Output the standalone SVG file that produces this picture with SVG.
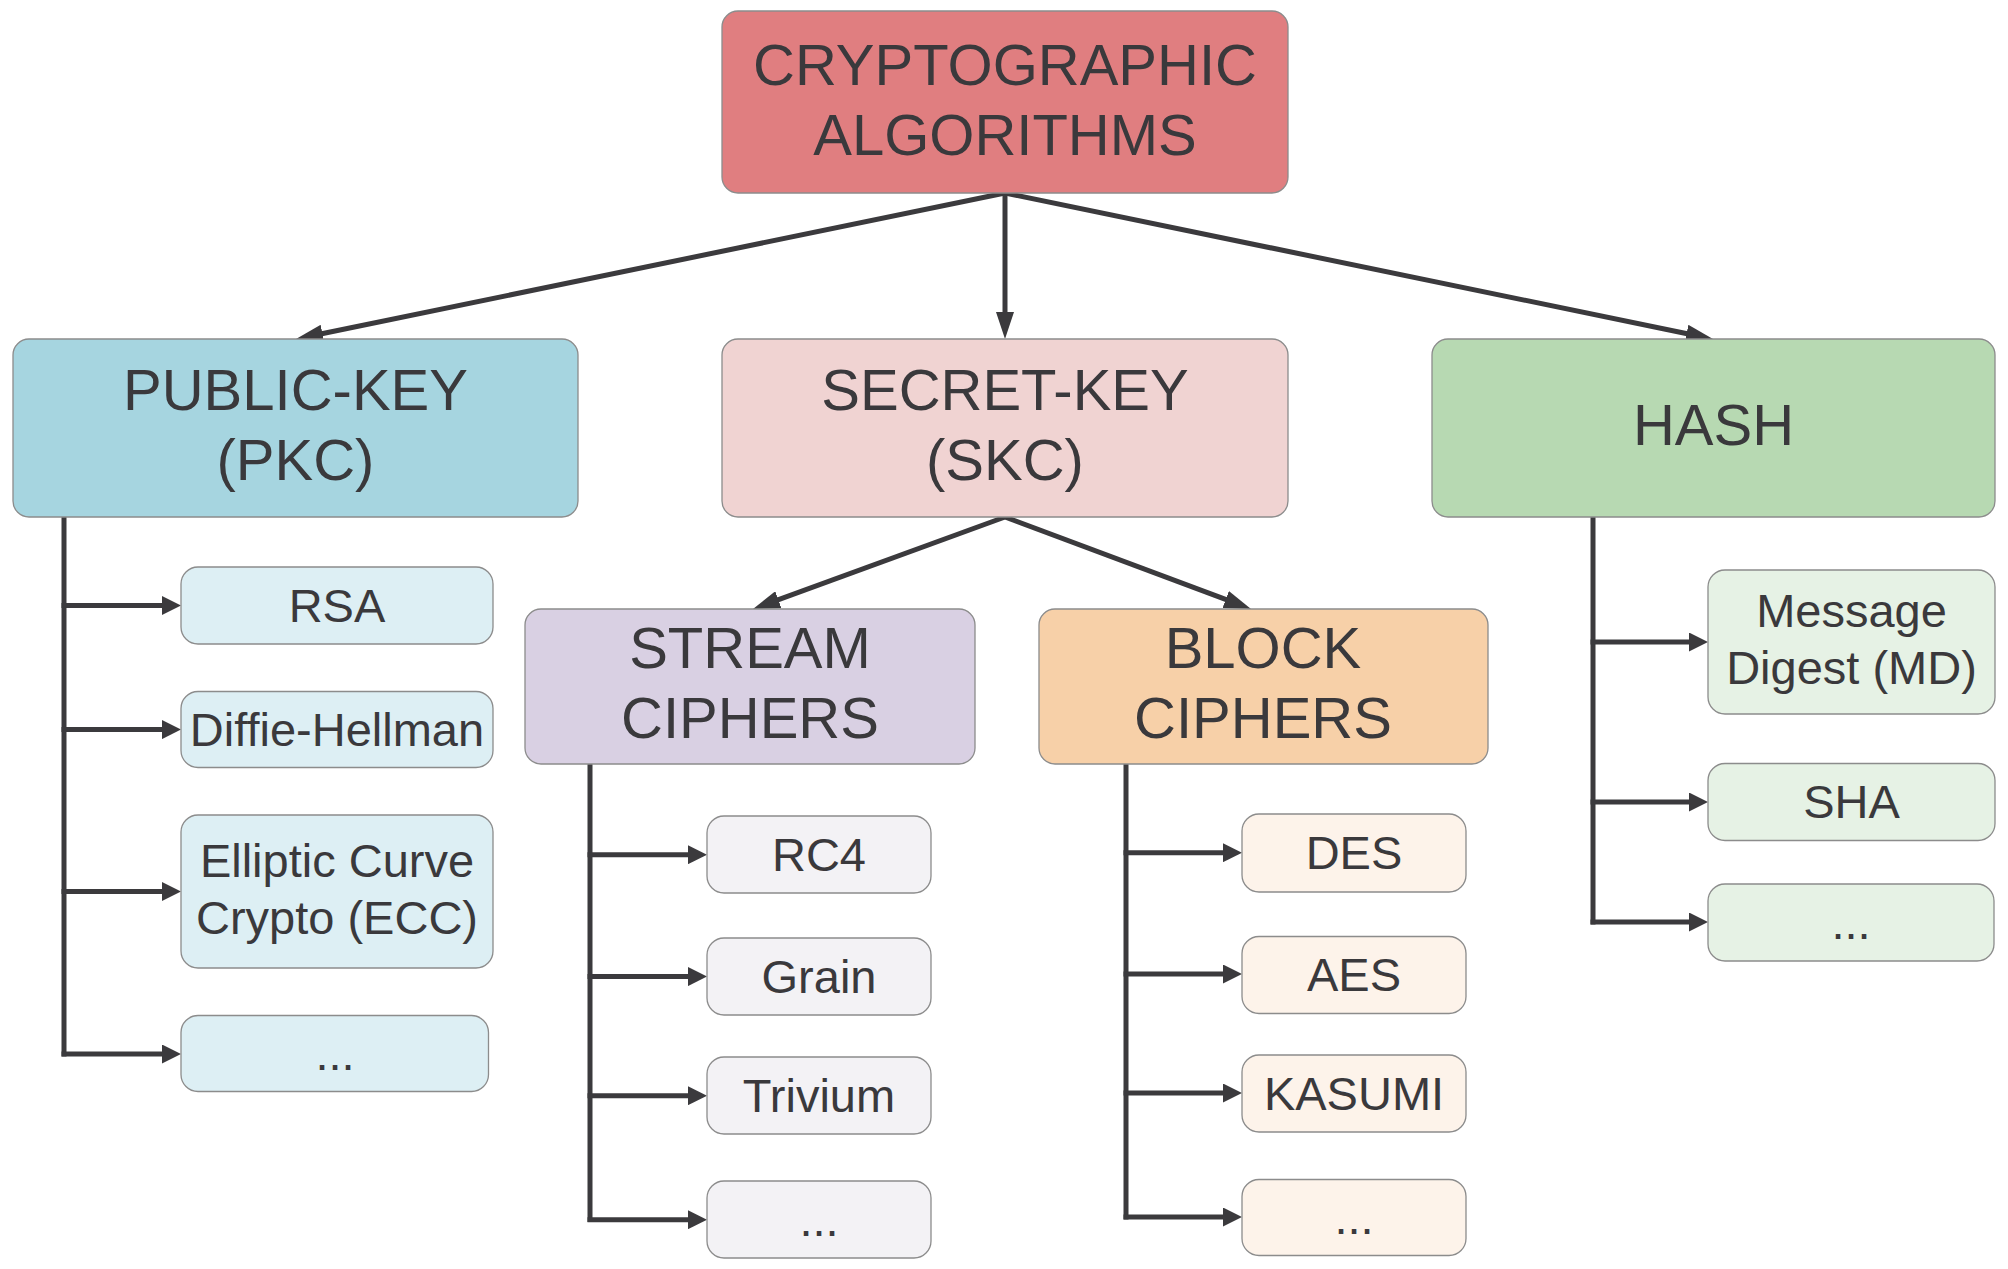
<svg xmlns="http://www.w3.org/2000/svg" width="2008" height="1269" viewBox="0 0 2008 1269">
<style>
text{font-family:"Liberation Sans",Arial,sans-serif;fill:#3a393c;text-anchor:middle}
.big{font-size:58px}
.leaf{font-size:47px}
.box{stroke:#8c8c8c;stroke-width:1.3}
.con{stroke:#3b3a3d;stroke-width:5;fill:none}
</style>
<defs>
<marker id="ah" markerUnits="userSpaceOnUse" viewBox="0 0 27 18" refX="2" refY="9" markerWidth="27" markerHeight="18" orient="auto"><path d="M0,0 L27,9 L0,18 z" fill="#3b3a3d"/></marker>
<marker id="as" markerUnits="userSpaceOnUse" viewBox="0 0 19 19" refX="1" refY="9.5" markerWidth="19" markerHeight="19" orient="auto"><path d="M0,0 L19,9.5 L0,19 z" fill="#3b3a3d"/></marker>
</defs>
<rect width="2008" height="1269" fill="#ffffff"/>
<g id="connectors">
<path class="con" d="M1005,193 L320.5,334" marker-end="url(#ah)"/>
<path class="con" d="M1005,193 L1005,314" marker-end="url(#ah)"/>
<path class="con" d="M1005,193 L1688.5,334" marker-end="url(#ah)"/>
<path class="con" d="M1005,517 L776.5,600.4" marker-end="url(#ah)"/>
<path class="con" d="M1005,517 L1227.6,600.2" marker-end="url(#ah)"/>
<path class="con" d="M64,517 V1056.5"/>
<path class="con" d="M61.5,605.5 H163" marker-end="url(#as)"/>
<path class="con" d="M61.5,729.6 H163" marker-end="url(#as)"/>
<path class="con" d="M61.5,891.5 H163" marker-end="url(#as)"/>
<path class="con" d="M61.5,1054 H163" marker-end="url(#as)"/>
<path class="con" d="M590,764 V1222"/>
<path class="con" d="M587.5,854.7 H689" marker-end="url(#as)"/>
<path class="con" d="M587.5,976.6 H689" marker-end="url(#as)"/>
<path class="con" d="M587.5,1095.7 H689" marker-end="url(#as)"/>
<path class="con" d="M587.5,1219.7 H689" marker-end="url(#as)"/>
<path class="con" d="M1126,764 V1219.5"/>
<path class="con" d="M1123.5,852.7 H1224" marker-end="url(#as)"/>
<path class="con" d="M1123.5,974 H1224" marker-end="url(#as)"/>
<path class="con" d="M1123.5,1093 H1224" marker-end="url(#as)"/>
<path class="con" d="M1123.5,1217 H1224" marker-end="url(#as)"/>
<path class="con" d="M1593,517 V924.5"/>
<path class="con" d="M1590.5,642 H1690" marker-end="url(#as)"/>
<path class="con" d="M1590.5,802 H1690" marker-end="url(#as)"/>
<path class="con" d="M1590.5,922 H1690" marker-end="url(#as)"/>
</g>
<g id="root"><rect class="box" x="722" y="11" width="566" height="182" rx="16" fill="#e07e80"/><text class="big" x="1005" y="85">CRYPTOGRAPHIC</text><text class="big" x="1005" y="155">ALGORITHMS</text></g>
<g id="pkc"><rect class="box" x="13" y="339" width="565" height="178" rx="16" fill="#a6d5e0"/><text class="big" x="295.5" y="410">PUBLIC-KEY</text><text class="big" x="295.5" y="480">(PKC)</text></g>
<g id="skc"><rect class="box" x="722" y="339" width="566" height="178" rx="16" fill="#f0d3d2"/><text class="big" x="1005" y="410">SECRET-KEY</text><text class="big" x="1005" y="480">(SKC)</text></g>
<g id="hash"><rect class="box" x="1432" y="339" width="563" height="178" rx="16" fill="#b7d9b2"/><text class="big" x="1713.5" y="445">HASH</text></g>
<g id="stream"><rect class="box" x="525" y="609" width="450" height="155" rx="16" fill="#d9d0e3"/><text class="big" x="750" y="668">STREAM</text><text class="big" x="750" y="738">CIPHERS</text></g>
<g id="block"><rect class="box" x="1039" y="609" width="449" height="155" rx="16" fill="#f7d0a8"/><text class="big" x="1263" y="668">BLOCK</text><text class="big" x="1263" y="738">CIPHERS</text></g>
<g id="rsa"><rect class="box" x="181" y="567" width="312" height="77" rx="17" fill="#ddeff4"/><text class="leaf" x="337" y="622">RSA</text></g>
<g id="dh"><rect class="box" x="181" y="691.5" width="312" height="76" rx="17" fill="#ddeff4"/><text class="leaf" x="337" y="746">Diffie-Hellman</text></g>
<g id="ecc"><rect class="box" x="181" y="815" width="312" height="153" rx="17" fill="#ddeff4"/><text class="leaf" x="337" y="877">Elliptic Curve</text><text class="leaf" x="337" y="934">Crypto (ECC)</text></g>
<g id="pkc-more"><rect class="box" x="181" y="1015.5" width="307.5" height="76" rx="17" fill="#ddeff4"/><text class="leaf" x="335" y="1070">...</text></g>
<g id="rc4"><rect class="box" x="707" y="816" width="224" height="77" rx="17" fill="#f3f2f5"/><text class="leaf" x="819" y="871">RC4</text></g>
<g id="grain"><rect class="box" x="707" y="938" width="224" height="77" rx="17" fill="#f3f2f5"/><text class="leaf" x="819" y="993">Grain</text></g>
<g id="trivium"><rect class="box" x="707" y="1057" width="224" height="77" rx="17" fill="#f3f2f5"/><text class="leaf" x="819" y="1112">Trivium</text></g>
<g id="stream-more"><rect class="box" x="707" y="1181" width="224" height="77" rx="17" fill="#f3f2f5"/><text class="leaf" x="819" y="1236">...</text></g>
<g id="des"><rect class="box" x="1242" y="814" width="224" height="78" rx="17" fill="#fdf3ea"/><text class="leaf" x="1354" y="869">DES</text></g>
<g id="aes"><rect class="box" x="1242" y="936.5" width="224" height="77" rx="17" fill="#fdf3ea"/><text class="leaf" x="1354" y="991">AES</text></g>
<g id="kasumi"><rect class="box" x="1242" y="1055" width="224" height="77" rx="17" fill="#fdf3ea"/><text class="leaf" x="1354" y="1110">KASUMI</text></g>
<g id="block-more"><rect class="box" x="1242" y="1179.5" width="224" height="76" rx="17" fill="#fdf3ea"/><text class="leaf" x="1354" y="1234">...</text></g>
<g id="md"><rect class="box" x="1708" y="570" width="287" height="144" rx="17" fill="#e6f2e5"/><text class="leaf" x="1851.5" y="627">Message</text><text class="leaf" x="1851.5" y="684">Digest (MD)</text></g>
<g id="sha"><rect class="box" x="1708" y="763.5" width="287" height="77" rx="17" fill="#e6f2e5"/><text class="leaf" x="1851.5" y="818">SHA</text></g>
<g id="hash-more"><rect class="box" x="1708" y="884" width="286" height="77" rx="17" fill="#e6f2e5"/><text class="leaf" x="1851" y="939">...</text></g>
</svg>
